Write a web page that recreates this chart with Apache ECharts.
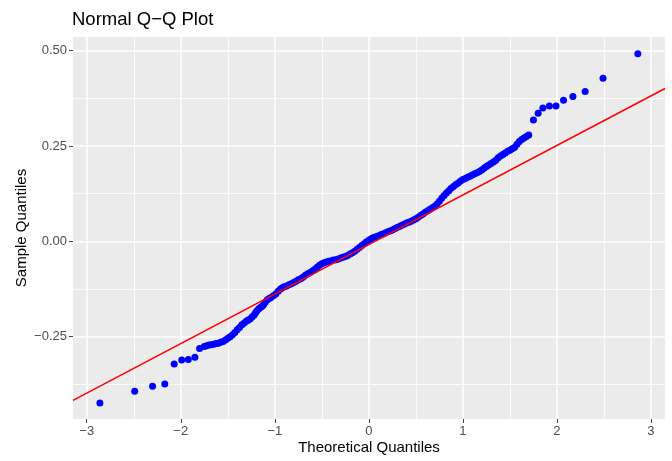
<!DOCTYPE html>
<html><head><meta charset="utf-8">
<script src="https://cdn.jsdelivr.net/npm/echarts@6/dist/echarts.min.js"></script>
<style>html,body{margin:0;padding:0;background:#fff}#c{width:672px;height:461px}</style>
</head><body><div id="c"></div>
<script>
// Theoretical quantiles (x) and sample quantiles (y)
const qqX = [
  -2.86,-2.49,-2.30,-2.17,-2.07,-1.99,-1.92,-1.85,-1.80,-1.75,
  -1.725,-1.70,-1.675,-1.65,-1.625,-1.60,-1.575,-1.55,-1.525,-1.50,
  -1.475,-1.45,-1.425,-1.40,-1.375,-1.35,-1.325,-1.30,-1.28,-1.26,
  -1.24,-1.22,-1.205,-1.19,-1.17,-1.15,-1.135,-1.12,-1.10,-1.08,
  -1.06,-1.04,-1.015,-0.99,-0.965,-0.94,-0.92,-0.90,-0.875,-0.85,
  -0.825,-0.80,-0.775,-0.75,-0.725,-0.70,-0.675,-0.65,-0.625,-0.60,
  -0.575,-0.55,-0.525,-0.50,-0.475,-0.45,-0.425,-0.40,-0.375,-0.35,
  -0.325,-0.30,-0.275,-0.25,-0.225,-0.20,-0.175,-0.15,-0.125,-0.10,
  -0.075,-0.05,-0.025,0.00,0.025,0.05,0.075,0.10,0.125,0.15,
  0.175,0.20,0.225,0.25,0.275,0.30,0.325,0.35,0.375,0.40,
  0.425,0.45,0.475,0.50,0.525,0.55,0.575,0.60,0.625,0.65,
  0.675,0.70,0.725,0.75,0.775,0.80,0.825,0.85,0.875,0.90,
  0.925,0.95,0.975,1.00,1.025,1.05,1.075,1.10,1.125,1.15,
  1.175,1.20,1.225,1.25,1.275,1.30,1.325,1.35,1.375,1.40,
  1.425,1.45,1.475,1.50,1.525,1.55,1.575,1.60,1.625,1.65,
  1.675,1.70,
  1.75,1.80,1.85,1.92,1.99,2.07,2.17,2.30,2.49,2.86];
const qqY = [
  -0.424,-0.393,-0.380,-0.374,-0.322,-0.311,-0.310,-0.304,-0.281,-0.276,
  -0.274,-0.272,-0.271,-0.270,-0.268,-0.267,-0.265,-0.263,-0.259,-0.254,
  -0.250,-0.245,-0.239,-0.232,-0.226,-0.219,-0.214,-0.209,-0.206,-0.203,
  -0.198,-0.193,-0.187,-0.182,-0.177,-0.173,-0.170,-0.166,-0.159,-0.153,
  -0.150,-0.147,-0.143,-0.138,-0.131,-0.125,-0.122,-0.119,-0.117,-0.114,
  -0.111,-0.108,-0.105,-0.101,-0.098,-0.094,-0.089,-0.085,-0.082,-0.078,
  -0.073,-0.068,-0.063,-0.059,-0.056,-0.054,-0.052,-0.051,-0.049,-0.048,
  -0.046,-0.044,-0.042,-0.040,-0.037,-0.033,-0.030,-0.026,-0.021,-0.016,
  -0.011,-0.006,-0.001,0.003,0.007,0.010,0.012,0.014,0.017,0.019,
  0.022,0.025,0.027,0.030,0.033,0.036,0.039,0.042,0.045,0.048,
  0.050,0.053,0.056,0.059,0.063,0.068,0.072,0.076,0.080,0.084,
  0.088,0.092,0.098,0.105,0.113,0.120,0.127,0.133,0.139,0.144,
  0.149,0.153,0.158,0.162,0.165,0.168,0.171,0.174,0.177,0.180,
  0.183,0.187,0.192,0.196,0.200,0.204,0.208,0.213,0.219,0.224,
  0.228,0.232,0.236,0.239,0.243,0.247,0.255,0.262,0.267,0.271,
  0.275,0.279,
  0.318,0.336,0.350,0.355,0.355,0.370,0.380,0.393,0.428,0.492];
// Reference line end points
const lineX = [-3.146, 3.149];
const lineY = [-0.417, 0.401];
// Axis ranges and ticks
const xRange = [-3.146, 3.149];
const yRange = [-0.466, 0.536];
const xTicks = [-3, -2, -1, 0, 1, 2, 3];
const yTicks = [-0.25, 0, 0.25, 0.5];

const FONT = '"Liberation Sans", Arial, sans-serif';
function fmt(dec) {
  return function (v) { return (v < 0 ? '\u2212' : '') + Math.abs(v).toFixed(dec); };
}
const chart = echarts.init(document.getElementById('c'), null, {renderer: 'canvas'});
chart.setOption({
  animation: false,
  textStyle: {fontFamily: FONT},
  title: {
    text: 'Normal Q\u2212Q Plot', left: 72, top: 10, padding: 0,
    textStyle: {fontFamily: FONT, fontSize: 18.5, fontWeight: 'normal', color: '#000'}
  },
  grid: {left: 73, right: 7, top: 37, bottom: 42, show: true, backgroundColor: '#EBEBEB', borderWidth: 0, containLabel: false},
  xAxis: {
    type: 'value', min: xRange[0], max: xRange[1], minInterval: 1, maxInterval: 1,
    axisLine: {show: false, onZero: false},
    axisTick: {show: true, customValues: xTicks, length: 4, lineStyle: {color: '#444', width: 1}},
    axisLabel: {customValues: xTicks, formatter: fmt(0), color: '#4D4D4D', fontSize: 13, margin: 6, fontFamily: FONT},
    splitLine: {show: true, lineStyle: {color: '#fff', width: 1.5}},
    minorTick: {show: false, splitNumber: 2},
    minorSplitLine: {show: true, lineStyle: {color: '#fff', width: 0.8}},
    name: 'Theoretical Quantiles', nameLocation: 'middle', nameGap: 21, nameMoveOverlap: false,
    nameTextStyle: {color: '#000', fontSize: 15, fontFamily: FONT}
  },
  yAxis: {
    type: 'value', min: yRange[0], max: yRange[1], minInterval: 0.25, maxInterval: 0.25,
    axisLine: {show: false, onZero: false},
    axisTick: {show: true, customValues: yTicks, length: 4, lineStyle: {color: '#444', width: 1}},
    axisLabel: {customValues: yTicks, formatter: fmt(2), color: '#4D4D4D', fontSize: 13, margin: 6, fontFamily: FONT},
    splitLine: {show: true, lineStyle: {color: '#fff', width: 1.5}},
    minorTick: {show: false, splitNumber: 2},
    minorSplitLine: {show: true, lineStyle: {color: '#fff', width: 0.8}},
    name: 'Sample Quantiles', nameLocation: 'middle', nameGap: 44, nameRotate: 90, nameMoveOverlap: false,
    nameTextStyle: {color: '#000', fontSize: 15, fontFamily: FONT}
  },
  series: [
    {
      type: 'scatter', z: 2,
      data: qqX.map(function (x, i) { return [x, qqY[i]]; }),
      symbol: 'circle', symbolSize: 7,
      itemStyle: {color: '#0000FF', opacity: 1}
    },
    {
      type: 'line', z: 3, clip: true,
      data: lineX.map(function (x, i) { return [x, lineY[i]]; }),
      showSymbol: false, symbol: 'none',
      lineStyle: {color: '#FF0000', width: 1.5}
    }
  ]
});
</script>
</body></html>
